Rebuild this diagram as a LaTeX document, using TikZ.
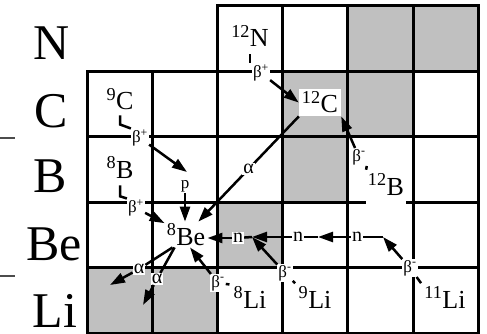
\documentclass[tikz,border=0pt]{standalone}
\usepackage{fontspec}
\setmainfont{Liberation Serif}
\usetikzlibrary{arrows.meta}
\definecolor{stablegray}{RGB}{192, 192, 192}
\newcommand{\nuc}[2]{\textsuperscript{#1}#2}

\begin{document}
\begin{tikzpicture}[
        x=1pt, y=-1pt,
        gridline/.style={line width=3pt, line cap=rect},
        element/.style={inner sep=0pt, anchor=base, font=\fontsize{50}{50}\selectfont},
        nuclide/.style={fill=white, inner sep=2pt, anchor=base, font=\fontsize{26}{26}\selectfont},
        decay/.style={fill=white, inner sep=1pt, font=\fontsize{17}{17}\selectfont},
        emit/.style={fill=white, inner sep=1pt, font=\fontsize{20}{20}\selectfont},
        link/.style={line width=2.5pt},
        arrow/.style={-{Triangle[length=15pt, width=10pt]}, line width=2.5pt}
    ]
        \useasboundingbox (0,0) rectangle (487,334);

        % chart cells
        \begin{scope}[shift={(87,6)}, x=65.2pt, y=-65.4pt]
            \foreach \c/\r in {4/0, 5/0, 3/1, 4/1, 3/2, 2/3, 0/4, 1/4}
                \fill[stablegray] (\c,\r) rectangle ++(1,1);
            \draw[gridline] (2,0) -- (6,0);
            \foreach \r in {1,...,5}
                \draw[gridline] (0,\r) -- (6,\r);
            \foreach \c in {0,1}
                \draw[gridline] (\c,1) -- (\c,5);
            \foreach \c in {2,...,6}
                \draw[gridline] (\c,0) -- (\c,5);
        \end{scope}

        \draw[line width=1.2pt, black!70] (0,138) -- (15,138);
        \draw[line width=1.2pt, black!70] (0,276) -- (15,276);

        % element rows
        \node[element] (elN) at (52,60) {N};
        \node[element] (elC) at (51,128) {C};
        \node[element] (elB) at (50,192) {B};
        \node[element] (elBe) at (54,260) {Be};
        \node[element] (elLi) at (55,327) {Li};

        % nuclides
        \node[nuclide] (N12) at (250,47) {\nuc{12}{N}};
        \node[nuclide] (C9) at (120,110) {\nuc{9}{C}};
        \node[nuclide, inner sep=3pt] (C12) at (320,113) {\nuc{12}{C}};
        \node[nuclide] (B8) at (120,178) {\nuc{8}{B}};
        \node[nuclide, text depth=7pt] (B12) at (386,195) {\nuc{12}{B}};
        \node[nuclide] (Be8) at (186,245) {\nuc{8}{Be}};
        \node[nuclide] (Li8) at (250,308) {\nuc{8}{Li}};
        \node[nuclide] (Li9) at (315,308) {\nuc{9}{Li}};
        \node[nuclide] (Li11) at (445,308) {\nuc{11}{Li}};

        % decay labels
        \node[decay] (bpN12) at (261,73) {β\textsuperscript{+}};
        \node[decay] (bpC9) at (140,138) {β\textsuperscript{+}};
        \node[decay] (bpB8) at (136,208) {β\textsuperscript{+}};
        \node[decay] (bmB12) at (359,157) {β\textsuperscript{-}};
        \node[decay] (bmLi8) at (218,283) {β\textsuperscript{-}};
        \node[decay] (bmLi9) at (285,273) {β\textsuperscript{-}};
        \node[decay] (bmLi11) at (410,268) {β\textsuperscript{-}};
        \node[decay] (pB9) at (185,186) {p};
        \node[emit] (nBe9) at (238,238) {n};
        \node[emit] (nBe10) at (298,237) {n};
        \node[emit] (nBe11) at (357,237) {n};
        \node[emit] (aBe8a) at (139,269) {α};
        \node[emit] (aBe8b) at (157,279) {α};

        \coordinate (B9) at (187,172);
        \coordinate (Be9) at (252,237);
        \coordinate (Be10) at (318,237);
        \coordinate (Be11) at (383,237);
        \coordinate (aendA) at (110,285);
        \coordinate (aendB) at (143,305);

        % 12N
        \draw[link, shorten <=5pt] (N12.south) -- (N12.south |- bpN12.north);
        \draw[arrow] (bpN12) -- (C12.west);
        % 9C
        \draw[link, shorten <=3pt] (C9.south) -- ++(0,12) -- (bpC9.north west);
        \draw[arrow] (bpC9) -- (B9);
        \draw[arrow] (pB9) -- (pB9 |- Be8.north);
        % 8B
        \draw[link, shorten <=5pt] (B8.south) -- ++(0,16) -- (bpB8.north west);
        \draw[arrow] (bpB8) -- (Be8);
        % 12C
        \draw[arrow] (C12.south west) -- node[emit]{α} (Be8);
        % 12B
        \draw[link, shorten <=2pt] (B12.north west) -- (bmB12.south east);
        \draw[arrow] (bmB12) -- (C12.south east);
        % 8Be
        \draw[link] ([xshift=8pt]Be8.south west) -- (aBe8a);
        \draw[arrow] (aBe8a) -- (aendA);
        \draw[link] ([xshift=10pt]Be8.south west) -- (aBe8b);
        \draw[arrow] (aBe8b) -- (aendB);
        % 8Li
        \draw[link, shorten <=2pt] (Li8.north west) -- (bmLi8);
        \draw[arrow] (bmLi8) -- ([xshift=4pt]Be8.south);
        % 9Li
        \draw[link, shorten <=2pt] (Li9.north west) -- (bmLi9);
        \draw[arrow] (bmLi9) -- (Be9);
        \draw[link] (Be9) -- (nBe9);
        \draw[arrow] (nBe9) -- (nBe9 -| Be8.east);
        % 11Li
        \draw[link, shorten <=2pt] (Li11.north west) -- (bmLi11);
        \draw[arrow] (bmLi11) -- (Be11);
        \draw[link] (Be11) -- (nBe11);
        \draw[arrow] (nBe11) -- (Be10);
        \draw[link] (Be10) -- (nBe10);
        \draw[arrow] (nBe10) -- (Be9);
    \end{tikzpicture}
\end{document}
